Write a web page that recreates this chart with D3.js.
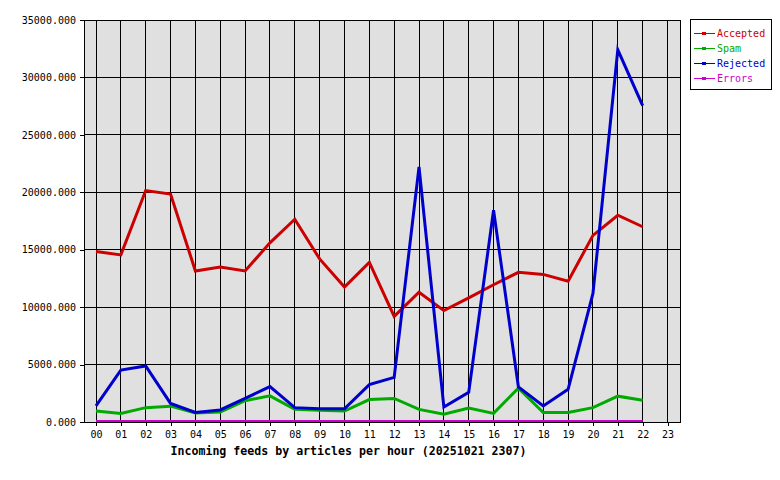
<!DOCTYPE html>
<html>
<head>
<meta charset="utf-8">
<script src="https://cdn.jsdelivr.net/npm/d3@7"></script>
<style>
  body { margin: 0; background: #fff; }
  svg { display: block; }
</style>
</head>
<body>
<div id="chart"></div>
<script>
// hour labels along the bottom
const hours = ["00","01","02","03","04","05","06","07","08","09","10","11",
               "12","13","14","15","16","17","18","19","20","21","22","23"]
const yTicks = [0, 5000, 10000, 15000, 20000, 25000, 30000, 35000]

// values per hour, 00..22 (23 has no data yet)
const accepted = [14850, 14550, 20150, 19850, 13150, 13500, 13150, 15600, 17650, 14200, 11750, 13900,
                  9200, 11300, 9700, 10800, 11950, 13030, 12850, 12250, 16250, 18000, 17000]
const spam = [950, 750, 1250, 1380, 780, 880, 1850, 2280, 1100, 1030, 950, 1950,
              2050, 1100, 680, 1220, 750, 2950, 830, 830, 1250, 2250, 1900]
const rejected = [1400, 4520, 4880, 1620, 830, 1050, 2050, 3080, 1250, 1150, 1150, 3250,
                  3880, 22200, 1300, 2580, 18450, 3050, 1400, 2850, 11200, 32400, 27550]
const errors = [40, 40, 40, 40, 40, 40, 40, 40, 40, 40, 40, 40,
                40, 40, 40, 40, 40, 40, 40, 40, 40, 40, 40]

const seriesNames = ["Accepted", "Spam", "Rejected", "Errors"]
const seriesColors = ["#cc0000", "#00aa00", "#0000cc", "#cc00cc"]

const width = 780, height = 480
const margin = { top: 20, right: 100, bottom: 58, left: 84 }
const plotW = width - margin.left - margin.right   // 596
const plotH = height - margin.top - margin.bottom   // 402

const x = d3.scaleLinear()
   .domain([0, 23])
   .range([margin.left + 12, margin.left + plotW - 12.5])

const y = d3.scaleLinear()
   .domain([0, 35000])
   .range([margin.top + plotH, margin.top])

const mono = "'DejaVu Sans Mono', 'Liberation Mono', monospace"

const svg = d3.create("svg")
   .attr("width", width)
   .attr("height", height)
   .attr("viewBox", [0, 0, width, height])

svg.append("rect")
   .attr("x", margin.left)
   .attr("y", margin.top)
   .attr("width", plotW)
   .attr("height", plotH)
   .attr("fill", "#e0e0e0")

// grid lines
svg.append("g")
   .attr("stroke", "#000")
   .attr("shape-rendering", "crispEdges")
   .selectAll("line.h")
   .data(yTicks)
   .join("line")
   .attr("x1", margin.left)
   .attr("x2", margin.left + plotW)
   .attr("y1", d => y(d))
   .attr("y2", d => y(d))

svg.append("g")
   .attr("stroke", "#000")
   .attr("shape-rendering", "crispEdges")
   .selectAll("line")
   .data(hours)
   .join("line")
   .attr("x1", (d, i) => x(i))
   .attr("x2", (d, i) => x(i))
   .attr("y1", margin.top)
   .attr("y2", margin.top + plotH)

// series lines
const line = d3.line()
   .x((d, i) => x(i))
   .y(d => y(d))

const allSeries = [accepted, spam, rejected, errors]

svg.append("g")
   .attr("fill", "none")
   .attr("stroke-width", 3)
   .attr("stroke-linejoin", "miter")
   .selectAll("path")
   .data(allSeries)
   .join("path")
   .attr("stroke", (d, i) => seriesColors[i])
   .attr("d", line)

// frame
svg.append("rect")
   .attr("x", margin.left)
   .attr("y", margin.top)
   .attr("width", plotW)
   .attr("height", plotH)
   .attr("fill", "none")
   .attr("stroke", "#000")
   .attr("shape-rendering", "crispEdges")

// axes
svg.append("g")
   .attr("transform", `translate(${margin.left},0)`)
   .call(d3.axisLeft(y).tickValues(yTicks).tickFormat(d3.format(".3f")).tickSize(4).tickPadding(4))
   .call(g => g.select(".domain").remove())
   .call(g => g.selectAll("line").attr("shape-rendering", "crispEdges"))
   .call(g => g.selectAll("text").attr("font-family", mono).attr("font-size", 10).attr("fill", "#000"))

svg.append("g")
   .attr("transform", `translate(0,${margin.top + plotH})`)
   .call(d3.axisBottom(x).tickValues(d3.range(24)).tickFormat(i => hours[i]).tickSize(4).tickPadding(5))
   .call(g => g.select(".domain").remove())
   .call(g => g.selectAll("line").attr("shape-rendering", "crispEdges"))
   .call(g => g.selectAll("text").attr("font-family", mono).attr("font-size", 10).attr("fill", "#000"))

svg.append("text")
   .attr("x", 348.5)
   .attr("y", 455)
   .attr("text-anchor", "middle")
   .attr("font-family", mono)
   .attr("font-weight", "bold")
   .attr("font-size", 11.6)
   .text("Incoming feeds by articles per hour (20251021 2307)")

// legend
const legend = svg.append("g")
legend.append("rect")
   .attr("x", 690.5)
   .attr("y", 19.5)
   .attr("width", 81)
   .attr("height", 70)
   .attr("fill", "#fff")
   .attr("stroke", "#000")

const item = legend.selectAll("g.item")
   .data(seriesNames)
   .join("g")
   .attr("class", "item")
   .attr("transform", (d, i) => `translate(0,${33.5 + i * 15})`)

item.append("line")
   .attr("x1", 694)
   .attr("x2", 715)
   .attr("stroke", (d, i) => seriesColors[i])
   .attr("shape-rendering", "crispEdges")

item.append("rect")
   .attr("x", 702.5)
   .attr("y", -1.5)
   .attr("width", 3)
   .attr("height", 2)
   .attr("fill", "none")
   .attr("stroke", (d, i) => seriesColors[i])
   .attr("shape-rendering", "crispEdges")

item.append("text")
   .attr("x", 717)
   .attr("dy", "0.35em")
   .attr("font-family", mono)
   .attr("font-size", 10)
   .attr("fill", (d, i) => seriesColors[i])
   .text(d => d)

d3.select("#chart").node().append(svg.node())
</script>
</body>
</html>
